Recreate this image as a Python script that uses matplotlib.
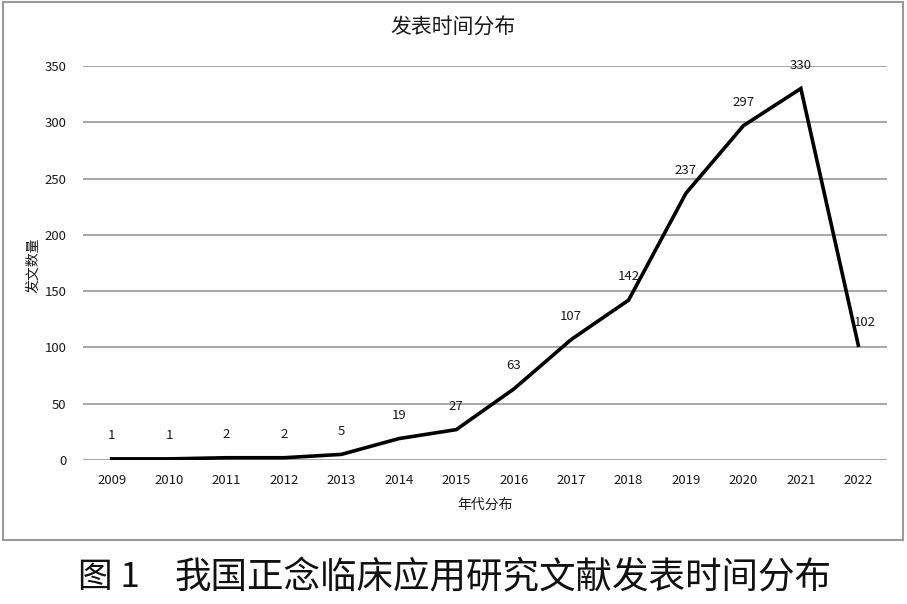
import matplotlib
matplotlib.use("Agg")
import matplotlib.pyplot as plt
from matplotlib.patches import Rectangle

plt.rcParams['font.family'] = ['Noto Sans CJK SC', 'DejaVu Sans']

years = ['2009', '2010', '2011', '2012', '2013', '2014', '2015',
         '2016', '2017', '2018', '2019', '2020', '2021', '2022']
counts = [1, 1, 2, 2, 5, 19, 27, 63, 107, 142, 237, 297, 330, 102]
yticks = [0, 50, 100, 150, 200, 250, 300, 350]

fig = plt.figure(figsize=(9.07, 6.04), dpi=100)
ax = fig.add_axes([83/907, 1-460/604, (887-83)/907, (460-66)/604])

x = list(range(len(years)))
ax.plot(x, counts, color='black', lw=2.6, solid_joinstyle='miter', zorder=3)
for xi, v in zip(x, counts):
    dx = 5 if xi == len(x)-1 else 0
    ax.annotate(str(v), (xi, v), xytext=(dx, 12), textcoords='offset points',
                ha='center', va='bottom', fontsize=9.5, color='#1a1a1a')

ax.set_xlim(-0.5, len(years)-0.5)
ax.set_ylim(0, 350)
ax.set_yticks(yticks)
ax.set_xticks(x)
ax.set_xticklabels(years)
ax.grid(axis='y', color='#a6a6a6', lw=1.4)
ax.set_axisbelow(True)
for s in ax.spines.values():
    s.set_visible(False)
ax.tick_params(length=0, labelsize=9.5, colors='#1a1a1a')
ax.tick_params(axis='x', pad=10)
ax.tick_params(axis='y', pad=12)

fig.text(453/907, 1-28/604, '发表时间分布', ha='center', va='center', fontsize=15, color='#1a1a1a')
fig.text(485/907, 1-505/604, '年代分布', ha='center', va='center', fontsize=10, color='#1a1a1a')
fig.text(33/907, 1-265/604, '发文数量', ha='center', va='center', rotation=90, fontsize=10, color='#1a1a1a')

fig.patches.append(Rectangle((3/907, 1-540/604), 900/907, 538/604, transform=fig.transFigure,
                             fill=False, edgecolor='#999999', lw=1.5))

fig.text(78/907, 1-578/604, '图 1', ha='left', va='center',
         fontsize=25, color='#111111', fontweight='light')
fig.text(832/907, 1-578/604, '我国正念临床应用研究文献发表时间分布', ha='right', va='center',
         fontsize=26.3, color='#111111', fontweight='light')

fig.savefig('out.png', dpi=100)
